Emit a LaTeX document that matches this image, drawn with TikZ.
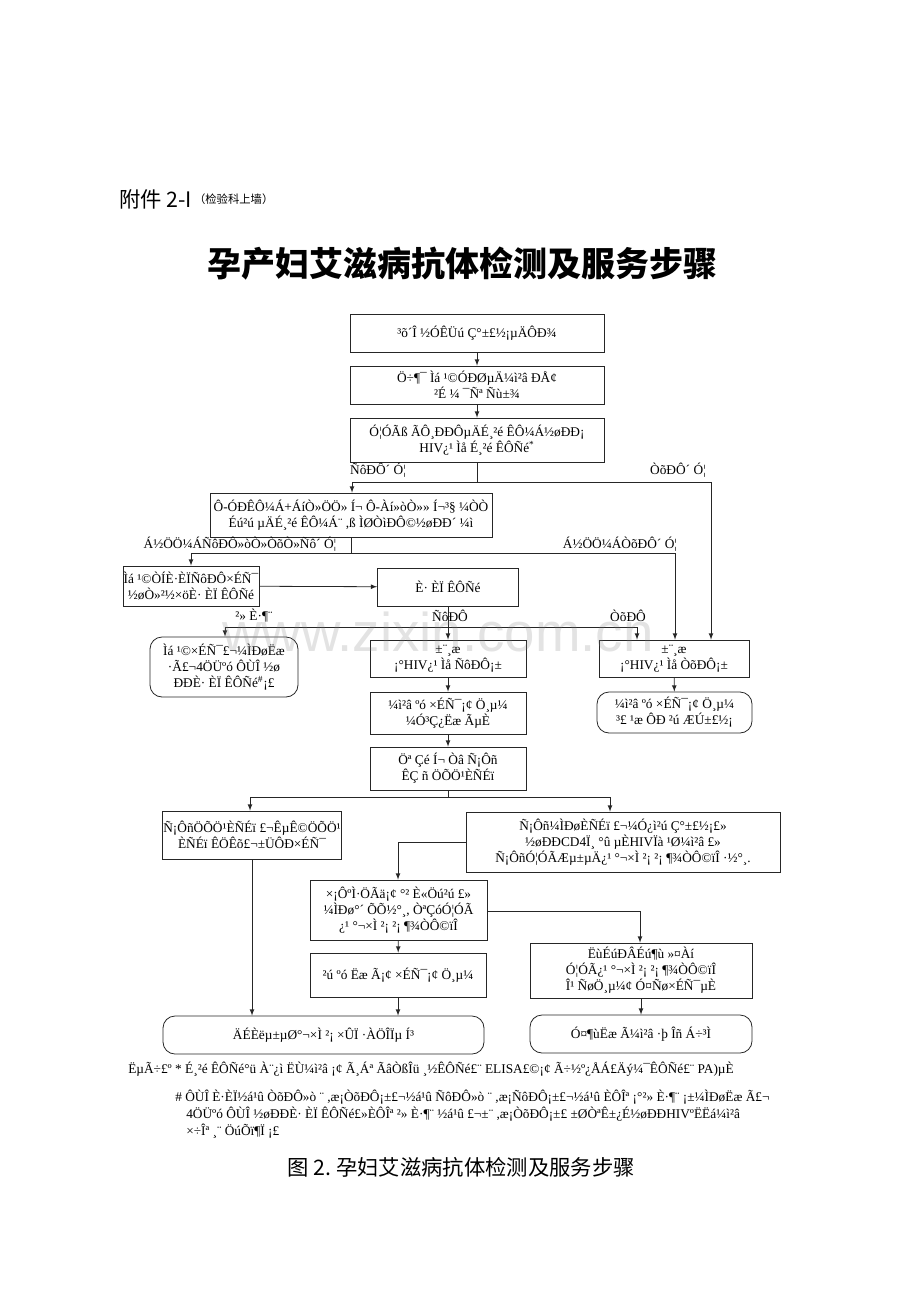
\documentclass[tikz,border=0pt]{standalone}
\usepackage{fontspec}
\setmainfont{Liberation Serif}
\newfontfamily\cjkfont{Noto Sans CJK SC}
\newfontfamily\markfont{Liberation Sans}
\usetikzlibrary{positioning}
\newdimen\upx \upx=0.75pt

\begin{document}
\begin{tikzpicture}[
  x=0.75pt, y=-0.75pt,
  box/.style={
    draw=black!85,
    line width=0.6pt,
    align=center,
    font=\fontsize{10}{12}\selectfont,
    inner sep=0pt
  },
  rbox/.style={box, rounded corners=9pt},
  lbl/.style={inner sep=0pt, font=\fontsize{10}{12}\selectfont},
  note/.style={inner sep=0pt, anchor=west, font=\fontsize{10}{12}\selectfont},
  wire/.style={draw=black!85, line width=0.6pt},
  line/.style={wire, -latex}
]
\useasboundingbox (0,0) rectangle (920,1302);

% header and title
\node[inner sep=0pt, anchor=west, font=\cjkfont\fontsize{16}{18}\selectfont] (annex) at (119,199) {附件 2-I};
\node[inner sep=0pt, anchor=west, font=\cjkfont\fontsize{8.5}{10}\selectfont] (wall) at ([xshift=1pt]annex.east) {（检验科上墙）};
\node[inner sep=0pt, font=\cjkfont\bfseries\fontsize{25.5}{28}\selectfont] (title) at (462,264) {孕产妇艾滋病抗体检测及服务步骤};

% main column
\node[box, minimum width=254\upx, minimum height=38\upx] (first) at (477,333) {³õ´Î ½ÓÊÜú Ç°±£½¡µÄÔÐ¾};
\node[box, minimum width=254\upx, minimum height=38\upx] (offer) at (477,385) {Ö÷¶¯ Ìá ¹©ÓÐØµÄ¼ì²â ÐÅ¢\\²É ¼ ¯Ñª Ñù±¾};
\node[box, minimum width=254\upx, minimum height=44\upx] (screen) at (477,440) {Ó¦ÓÃß ÃÔ¸ÐÐÔµÄÉ¸²é ÊÔ¼Á½øÐÐ¡\\HIV¿¹ Ìå É¸²é ÊÔÑé\textsuperscript{*}};
\node[box, minimum width=282\upx, minimum height=44\upx] (recheck) at (351,515) {Ô-ÓÐÊÔ¼Á+ÁíÒ»ÖÖ» Í¬ Ô-Àí»òÒ»» Í¬³§ ¼ÒÒ\\Éú²ú µÄÉ¸²é ÊÔ¼Á¨ ,ß ÌØÒìÐÔ©½øÐÐ´ ¼ì};
\node[box, minimum width=136\upx, minimum height=40\upx] (advise) at (191,586) {Ìá ¹©ÒÍÈ·ÈÏÑôÐÔ×ÉÑ¯\\½øÒ»²½×öÈ· ÈÏ ÊÔÑé};
\node[box, minimum width=141\upx, minimum height=38\upx] (confirm) at (448,587) {È· ÈÏ ÊÔÑé};
\node[rbox, minimum width=148\upx, minimum height=60\upx] (unsure) at (224,667) {Ìá ¹©×ÉÑ¯£¬¼ÌÐøËæ\\·Ã£¬4ÖÜºó ÔÙÎ ½ø\\ÐÐÈ· ÈÏ ÊÔÑé\textsuperscript{\#}¡£};
\node[box, minimum width=156\upx, minimum height=37\upx] (pos) at (448,658.5) {±¨¸æ\\¡°HIV¿¹ Ìå ÑôÐÔ¡±};
\node[box, minimum width=150\upx, minimum height=37\upx] (neg) at (674,658.5) {±¨¸æ\\¡°HIV¿¹ Ìå ÒõÐÔ¡±};
\node[rbox, minimum width=155\upx, minimum height=41\upx] (negcare) at (674.5,712.5) {¼ì²â ºó ×ÉÑ¯¡¢ Ö¸µ¼\\³£ ¹æ ÔÐ ²ú ÆÚ±£½¡};
\node[box, minimum width=156\upx, minimum height=42\upx] (poscare) at (448,713) {¼ì²â ºó ×ÉÑ¯¡¢ Ö¸µ¼\\¼Ó³Ç¿Ëæ ÃµÈ};
\node[box, minimum width=156\upx, minimum height=43\upx] (choice) at (448,768.5) {Öª Çé Í¬ Òâ Ñ¡Ôñ\\ÊÇ ñ ÖÕÖ¹ÈÑÉï};
\node[box, minimum width=179\upx, minimum height=48\upx] (stop) at (252,835) {Ñ¡ÔñÖÕÖ¹ÈÑÉï £¬ÊµÊ©ÖÕÖ¹\\ÈÑÉï ÊÖÊõ£¬±ÜÔÐ×ÉÑ¯};
\node[box, minimum width=314\upx, minimum height=60\upx] (keep) at (623,842) {Ñ¡Ôñ¼ÌÐøÈÑÉï £¬¼Ó¿ì²ú Ç°±£½¡£»\\½øÐÐCD4Ï¸ °û µÈHIVÏà ¹Ø¼ì²â £»\\Ñ¡ÔñÓ¦ÓÃÆµ±µÄ¿¹ °¬×Ì ²¡ ²¡ ¶¾ÒÔ©ïÎ ·½°¸.};
\node[box, minimum width=177\upx, minimum height=60\upx] (birth) at (398.5,910) {×¡ÔºÌ·ÖÃä¡¢ °² È«Öú²ú £»\\¼ÌÐø°´ ÕÕ½°¸, ÒªÇóÓ¦ÓÃ\\¿¹ °¬×Ì ²¡ ²¡ ¶¾ÒÔ©ïÎ};
\node[box, minimum width=176\upx, minimum height=44\upx] (after) at (398,975) {²ú ºó Ëæ Ã¡¢ ×ÉÑ¯¡¢ Ö¸µ¼};
\node[box, minimum width=222\upx, minimum height=55\upx] (infant) at (641,970.5) {ËùÉúÐÂÉú¶ù »¤Àí\\Ó¦ÓÃ¿¹ °¬×Ì ²¡ ²¡ ¶¾ÒÔ©ïÎ\\Î¹ ÑøÖ¸µ¼¢ Ó¤Ñø×ÉÑ¯µÈ};
\node[rbox, minimum width=222\upx, minimum height=38\upx] (follow) at (641,1034) {Ó¤¶ùËæ Ã¼ì²â ·þ Îñ Á÷³Ì};
\node[rbox, minimum width=321\upx, minimum height=38\upx] (local) at (323.5,1035) {ÄÉÈëµ±µØ°¬×Ì ²¡ ×ÛÏ ·ÀÖÎÏµ Í³};

% branch labels
\node[lbl] (l1) at (378,470) {ÑôÐÔ´ Ó¦};
\node[lbl] (l2) at (678,470) {ÒõÐÔ´ Ó¦};
\node[lbl] (l3) at (240,544) {Á½ÖÖ¼ÁÑôÐÔ»òÒ»ÒõÒ»Ñô´ Ó¦};
\node[lbl] (l4) at (620,544) {Á½ÖÖ¼ÁÒõÐÔ´ Ó¦};
\node[lbl] (l5) at (254,616) {²» È·¶¨};
\node[lbl] (l6) at (450,616) {ÑôÐÔ};
\node[lbl] (l7) at (628,616) {ÒõÐÔ};

% junctions
\coordinate (j1) at (477,482);
\coordinate (j1l) at (352,482);
\coordinate (j1r) at (711,482);
\coordinate (j2) at (351,553);
\coordinate (j2l) at (191,553);
\coordinate (j2r) at (675,553);
\coordinate (j3) at (448,627);
\coordinate (j3l) at (225,627);
\coordinate (j3r) at (637,627);
\coordinate (j4) at (448,797);
\coordinate (j4l) at (250,797);
\coordinate (j4r) at (610,797);
\coordinate (j5) at (398,842);
\coordinate (j6) at (640,911);

\draw[line] (first) -- (offer);
\draw[line] (offer) -- (screen);
\draw[wire] (screen.south) -- (j1);
\draw[wire] (j1l) -- (j1r);
\draw[line] (j1l) -- (recheck.north -| j1l);
\draw[line] (j1r) -- (neg.north -| j1r);
\draw[wire] (recheck.south) -- (j2);
\draw[wire] (j2l) -- (j2r);
\draw[line] (j2l) -- (advise.north -| j2l);
\draw[line] (j2r) -- (neg.north -| j2r);
\draw[line] (advise) -- (confirm);
\draw[wire] (j3l) -- (j3r);
\draw[line] (confirm) -- (pos);
\draw[line] (j3l) -- (unsure.north -| j3l);
\draw[line] (j3r) -- (neg.north -| j3r);
\draw[line] (neg) -- (negcare);
\draw[line] (pos) -- (poscare);
\draw[line] (poscare) -- (choice);
\draw[wire] (choice.south) -- (j4);
\draw[wire] (j4l) -- (j4r);
\draw[line] (j4l) -- (stop.north -| j4l);
\draw[line] (j4r) -- (keep.north -| j4r);
\draw[line] (keep.west |- j5) -- (j5) -- (birth.north -| j5);
\draw[line] (birth) -- (after);
\draw[line] (birth.east |- j6) -- (j6) -- (infant.north -| j6);
\draw[line] (infant) -- (follow);
\draw[line] (stop.south) -- (stop.south |- local.north);
\draw[line] (after.south) -- (after.south |- local.north);

% notes
\node[note] (n1) at (128,1069) {ËµÃ÷£º * É¸²é ÊÔÑé°ü À¨¿ì ËÙ¼ì²â ¡¢ Ã¸Áª ÃâÒßÎü ¸½ÊÔÑé£¨ ELISA£©¡¢ Ã÷½º¿ÅÁ£Äý¼¯ÊÔÑé£¨ PA)µÈ};
\node[note] (n2) at (175,1097) {\# ÔÙÎ È·ÈÏ½á¹û ÒõÐÔ»ò ¨ ,æ¡ÒõÐÔ¡±£¬½á¹û ÑôÐÔ»ò ¨ ,æ¡ÑôÐÔ¡±£¬½á¹û ÈÔÎª ¡°²» È·¶¨ ¡±¼ÌÐøËæ Ã£¬};
\node[note] (n3) at (186,1114) {4ÖÜºó ÔÙÎ ½øÐÐÈ· ÈÏ ÊÔÑé£»ÈÔÎª ²» È·¶¨ ½á¹û £¬±¨ ,æ¡ÒõÐÔ¡±£ ±ØÒªÊ±¿É½øÐÐHIVºËËá¼ì²â};
\node[note] (n4) at (186,1131) {×÷Îª ¸¨ ÖúÕï¶Ï ¡£};
\node[inner sep=0pt, font=\cjkfont\fontsize{16}{18}\selectfont] (caption) at (461,1167) {图 2.~孕妇艾滋病抗体检测及服务步骤};

% watermark
\node[inner sep=0pt, opacity=0.22, text=gray, font=\markfont\fontsize{41}{44}\selectfont] (mark) at (438,632) {www.zixin.com.cn};
\end{tikzpicture}
\end{document}
